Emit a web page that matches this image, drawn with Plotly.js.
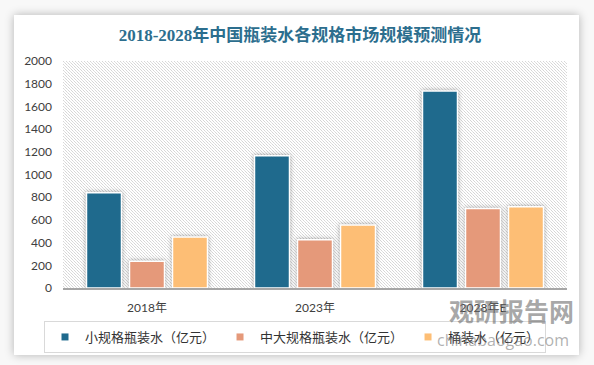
<!DOCTYPE html>
<html>
<head>
<meta charset="utf-8">
<script src="https://cdn.plot.ly/plotly-3.0.1.min.js"></script>
<style>
  html, body { margin: 0; padding: 0; background: #f8f8f8; width: 594px; height: 365px; overflow: hidden; }
  #card { position: absolute; left: 14px; top: 15px; width: 565px; height: 340px; background: #ffffff;
          box-shadow: 0 0 9px rgba(0,0,0,0.28); }
  #hatch { position: absolute; left: 63px; top: 61px; width: 504px; height: 227px;
           background-image: url("data:image/svg+xml;utf8,<svg xmlns='http://www.w3.org/2000/svg' width='3' height='3' shape-rendering='crispEdges'><rect x='0' y='0' width='3' height='3' fill='%23ffffff'/><rect x='0' y='0' width='1' height='1' fill='%23d6d6d6'/><rect x='1' y='1' width='1' height='1' fill='%23e0e0e0'/><rect x='2' y='2' width='1' height='1' fill='%23d6d6d6'/></svg>");
           background-repeat: repeat; image-rendering: pixelated; }
  #chart { position: absolute; left: 0; top: 0; width: 594px; height: 365px; }
  #chart .bars path { filter: drop-shadow(0px 0px 2px rgba(0,0,0,0.35)); }
</style>
</head>
<body>
<div id="card"></div>
<div id="hatch"></div>
<div id="chart"></div>
<script>
const categories = ['2018年', '2023年', '2028年E'];
const seriesNames = ['小规格瓶装水（亿元）', '中大规格瓶装水（亿元）', '桶装水（亿元）'];
const smallBottled = [840, 1165, 1735];
const midLargeBottled = [235, 425, 700];
const barrelWater = [450, 555, 715];
const yTicks = [0, 200, 400, 600, 800, 1000, 1200, 1400, 1600, 1800, 2000];
const colors = ['#1f6a8d', '#e5997a', '#fdbe75'];
const seriesValues = [smallBottled, midLargeBottled, barrelWater];

const cjk = 'Lato, "Noto Sans CJK SC", sans-serif';

const traces = [];
seriesValues.forEach((vals, i) => {
  traces.push({
    type: 'bar', x: categories, y: vals, name: seriesNames[i], showlegend: false,
    marker: { color: colors[i], line: { color: '#ffffff', width: 1.5 } },
    hoverinfo: 'x+y+name'
  });
});
seriesValues.forEach((vals, i) => {
  traces.push({
    type: 'scatter', mode: 'markers', x: [null], y: [null], name: seriesNames[i],
    marker: { symbol: 'square', size: 7, color: colors[i] }, showlegend: true
  });
});

const layout = {
  width: 594, height: 365,
  margin: { l: 63, r: 27, t: 61, b: 77 },
  paper_bgcolor: 'rgba(0,0,0,0)',
  plot_bgcolor: 'rgba(0,0,0,0)',
  barmode: 'group', bargap: 0.232, bargroupgap: 0.186,
  title: {
    text: '2018-2028年中国瓶装水各规格市场规模预测情况',
    font: { family: '"Liberation Serif", "Noto Sans CJK SC", serif', size: 17, color: '#2c6e8e', weight: 'bold' },
    xref: 'container', x: 0.505, xanchor: 'center',
    yref: 'container', y: 1 - 35 / 365, yanchor: 'middle'
  },
  xaxis: {
    type: 'category', showgrid: false, zeroline: false,
    showline: true, linecolor: '#a6a6a6', linewidth: 1.5,
    ticks: '', tickfont: { family: cjk, size: 12, color: '#404040' },
    ticklabelstandoff: 8, fixedrange: true
  },
  yaxis: {
    range: [0, 2000], tickvals: yTicks, showgrid: false, zeroline: false, showline: false,
    ticks: '', tickfont: { family: cjk, size: 12, color: '#404040' },
    ticklabelstandoff: 10, fixedrange: true
  },
  showlegend: true,
  legend: {
    orientation: 'h', xref: 'container', yref: 'container',
    x: 44 / 594, xanchor: 'left', y: 1 - 321 / 365, yanchor: 'top',
    bgcolor: '#ffffff', bordercolor: '#d9d9d9', borderwidth: 1,
    font: { family: cjk, size: 13, color: '#333333' },
    itemclick: false, itemdoubleclick: false
  },
  annotations: [
    { text: '<b>观研报告网</b>', xref: 'paper', yref: 'paper', x: (511 - 63) / 504, y: -(310 - 288) / 227,
      xanchor: 'center', yanchor: 'middle', showarrow: false,
      font: { family: '"Noto Sans CJK SC", sans-serif', size: 25, color: 'rgba(110,110,110,0.6)' } },
    { text: 'chinabaogao.com', xref: 'paper', yref: 'paper', x: (503 - 63) / 504, y: -(340 - 288) / 227,
      xanchor: 'center', yanchor: 'middle', showarrow: false,
      font: { family: '"Open Sans", sans-serif', size: 16, color: 'rgba(110,110,110,0.55)' } }
  ]
};

Plotly.newPlot('chart', traces, layout, { displayModeBar: false, staticPlot: false });
</script>
</body>
</html>
